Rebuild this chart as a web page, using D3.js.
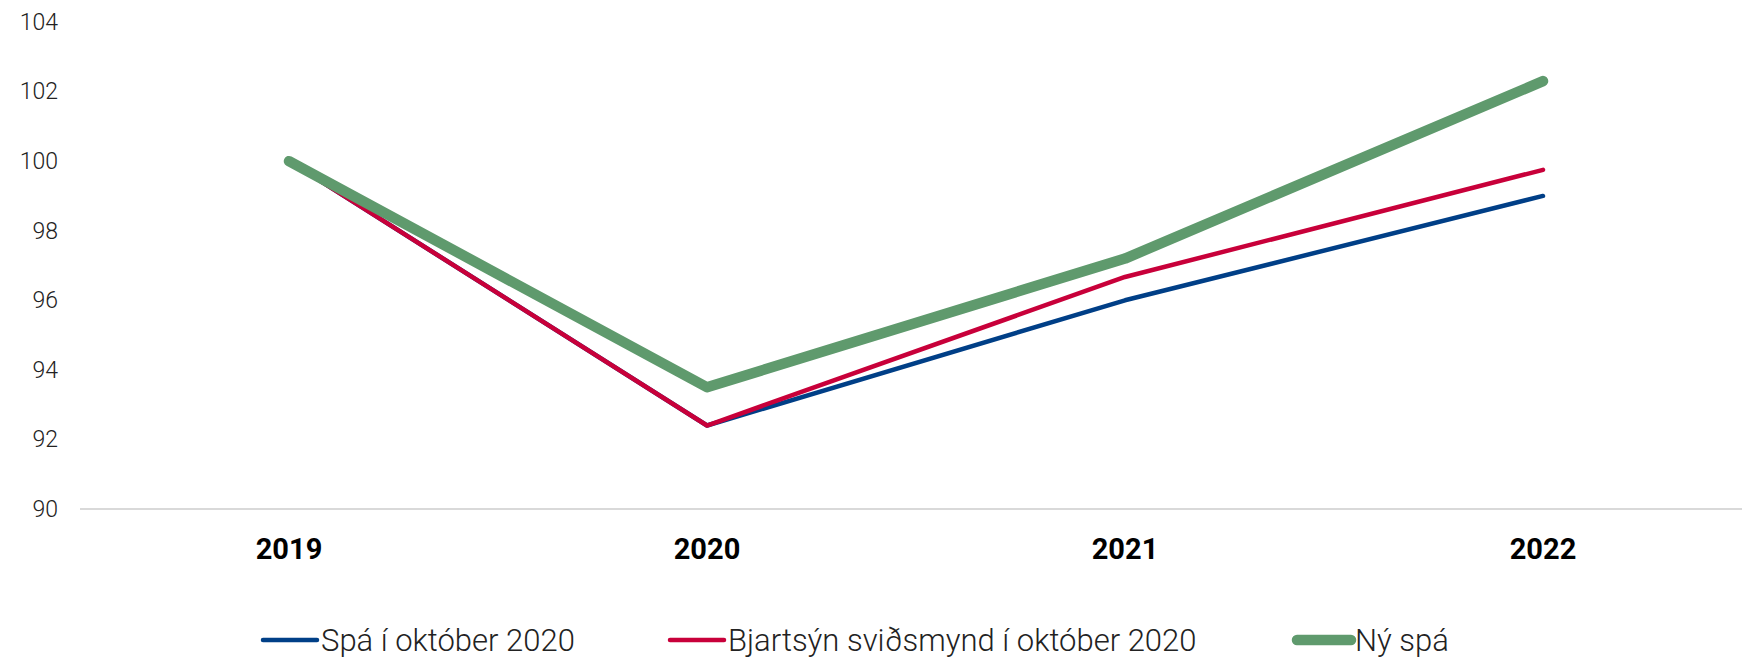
<!DOCTYPE html>
<html><head><meta charset="utf-8">
<script src="https://cdn.jsdelivr.net/npm/d3@7"></script>
<style>body{margin:0;background:#fff}svg{display:block}</style>
</head><body>
<svg id="c" width="1742" height="659"></svg>
<script>
const years = ["2019","2020","2021","2022"];
const spaOkt = [100, 92.4, 96.0, 99.0];
const bjartsyn = [100, 92.4, 96.67, 99.75];
const nySpa = [100, 93.5, 97.2, 102.3];
const yTicks = [90,92,94,96,98,100,102,104];
const seriesNames = ["Spá í október 2020","Bjartsýn sviðsmynd í október 2020","Ný spá"];

const series = [
  {name: seriesNames[0], values: spaOkt, color: "#003f87", width: 4.5},
  {name: seriesNames[1], values: bjartsyn, color: "#c8003a", width: 4.5},
  {name: seriesNames[2], values: nySpa, color: "#5f9a6d", width: 10.5}
];

const svg = d3.select("#c");
const x = d3.scaleBand().domain(years).range([80, 1752]);
const y = d3.scaleLinear().domain([90, 104]).range([509, 22]);

// baseline
svg.append("line").attr("x1", 80).attr("x2", 1742).attr("y1", y(90)).attr("y2", y(90))
  .attr("stroke", "#d9d9d9").attr("stroke-width", 2);

// y axis labels
const yAxis = d3.axisLeft(y).tickValues(yTicks).tickSize(0).tickPadding(0);
const gy = svg.append("g").attr("transform", "translate(58,0)").call(yAxis);
gy.select(".domain").remove();
gy.selectAll("text").attr("font-family", "Roboto, sans-serif").attr("font-weight", 300)
  .attr("font-size", 23).attr("fill", "#222");

// x axis labels
const xAxis = d3.axisBottom(x).tickSize(0).tickPadding(0);
const gx = svg.append("g").attr("transform", "translate(0,538)").call(xAxis);
gx.select(".domain").remove();
gx.selectAll("text").attr("font-family", "Roboto, sans-serif").attr("font-weight", 700)
  .attr("font-size", 29).attr("fill", "#000").attr("dy", "0.71em");

const line = d3.line().x((d, i) => x(years[i]) + x.bandwidth() / 2).y(d => y(d));
series.forEach(s => {
  svg.append("path").datum(s.values).attr("d", line).attr("fill", "none")
    .attr("stroke", s.color).attr("stroke-width", s.width)
    .attr("stroke-linecap", "round").attr("stroke-linejoin", "round");
});

// legend
const legendX = [263, 670, 1297];
const legY = 640;
series.forEach((s, i) => {
  const g = svg.append("g").attr("transform", `translate(${legendX[i]},${legY})`);
  g.append("line").attr("x1", 0).attr("x2", 54).attr("y1", 0).attr("y2", 0)
    .attr("stroke", s.color).attr("stroke-width", s.width).attr("stroke-linecap", "round");
  g.append("text").attr("x", 58).attr("y", 11)
    .attr("font-family", "Roboto, sans-serif").attr("font-weight", 300)
    .attr("font-size", 31).attr("fill", "#222").text(s.name);
});
</script>
</body></html>
